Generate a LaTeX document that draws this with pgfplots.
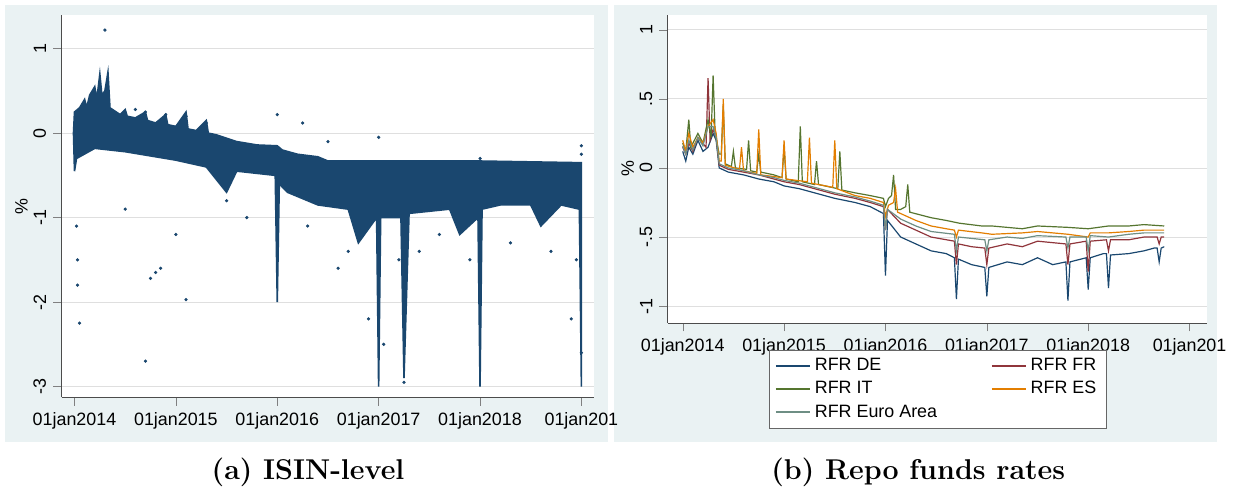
\documentclass[border=0pt]{standalone}
\usepackage{pgfplots}
\pgfplotsset{compat=1.18}
\usepackage{fontspec}
\setsansfont{Liberation Sans}
\definecolor{sbg}{HTML}{EAF2F3}
\definecolor{snavy}{HTML}{1A476F}
\definecolor{smaroon}{HTML}{90353B}
\definecolor{sgreen}{HTML}{55752F}
\definecolor{sorange}{HTML}{E37E00}
\definecolor{steal}{HTML}{6E8E84}
\begin{document}
\begin{tikzpicture}
\path (0pt,0pt) rectangle (616.5pt,247.5pt);
\fill[sbg] (2.5pt,25pt) rectangle (306pt,245pt);
\fill[sbg] (309pt,25pt) rectangle (612.5pt,245pt);
\fill[white] (31pt,47.5pt) rectangle (299pt,240pt);
\fill[white] (336pt,85pt) rectangle (607.5pt,240pt);
\node[font=\bfseries\Large] at (155pt,10pt) {(a) ISIN-level};
\node[font=\bfseries\Large] at (462pt,10pt) {(b) Repo funds rates};
\pgfplotsset{stata/.style={scale only axis, font=\sffamily\small,
  axis x line*=bottom, axis y line*=left, tick align=outside,
  ymajorgrids, grid style={gray!25}, axis line style={black!70},
  x filter/.expression={x-2014},
  xtick={0,1,2,3,4,5},
  xticklabels={01jan2014,01jan2015,01jan2016,01jan2017,01jan2018,01jan201},
  yticklabel style={rotate=90}, ylabel={\%}, clip=true}}
\begin{axis}[stata, at={(31pt,47.5pt)}, anchor=south west, width=268pt, height=192.5pt,
  xmin=-0.127, xmax=5.127, ymin=-3.13, ymax=1.4,
  ytick={-3,-2,-1,0,1}, yticklabels={-3,-2,-1,0,1}, ylabel style={yshift=-4pt}]
\addplot[fill=snavy, draw=snavy, line width=0.8pt] coordinates {
(2013.99,0.0)(2014.0,0.25)(2014.05,0.3)(2014.1,0.4)(2014.12,0.3)(2014.15,0.45)(2014.2,0.55)(2014.22,0.4)(2014.25,0.7)(2014.27,0.45)(2014.3,0.5)(2014.33,0.72)(2014.35,0.3)(2014.45,0.22)(2014.5,0.28)(2014.52,0.2)(2014.6,0.18)(2014.7,0.25)(2014.72,0.15)(2014.8,0.12)(2014.9,0.22)(2014.92,0.1)(2015.0,0.08)(2015.1,0.25)(2015.12,0.05)(2015.2,0.03)(2015.3,0.15)(2015.32,0.0)(2015.4,-0.02)(2015.6,-0.1)(2015.8,-0.14)(2016.0,-0.15)(2016.05,-0.2)(2016.2,-0.25)(2016.4,-0.28)(2016.5,-0.33)(2017.0,-0.33)(2018.0,-0.33)(2019.0,-0.35)
(2019.0,-3.0)(2018.98,-0.9)(2018.8,-0.85)(2018.6,-1.1)(2018.5,-0.85)(2018.2,-0.85)(2018.02,-0.9)(2018.0,-3.0)(2017.98,-1.0)(2017.8,-1.2)(2017.7,-0.9)(2017.3,-0.95)(2017.25,-2.9)(2017.22,-1.0)(2017.02,-1.0)(2017.0,-3.0)(2016.98,-1.0)(2016.8,-1.3)(2016.7,-0.9)(2016.4,-0.85)(2016.1,-0.7)(2016.02,-0.6)(2016.0,-2.0)(2015.98,-0.5)(2015.6,-0.45)(2015.5,-0.7)(2015.3,-0.4)(2015.0,-0.32)(2014.5,-0.22)(2014.2,-0.18)(2014.02,-0.3)(2014.0,-0.45)(2013.99,0.0)} --cycle;
\addplot[only marks, mark=*, mark size=0.6pt, color=snavy] coordinates {
(2014.02,-1.1)(2014.03,-1.5)(2014.05,-2.25)(2014.03,-1.8)(2014.3,1.22)(2014.8,-1.65)(2014.75,-1.72)(2014.85,-1.6)(2014.7,-2.7)(2015.1,-1.97)(2014.5,-0.9)(2015.0,-1.2)(2016.0,0.22)(2016.25,0.12)(2016.5,-0.1)(2017.0,-0.05)(2018.0,-0.3)(2019.0,-0.15)(2019.0,-0.25)(2016.7,-1.4)(2017.2,-1.5)(2017.25,-2.95)(2017.4,-1.4)(2017.6,-1.2)(2018.3,-1.3)(2018.7,-1.4)(2018.95,-1.5)(2016.9,-2.2)(2017.05,-2.5)(2015.5,-0.8)(2015.7,-1.0)(2016.3,-1.1)(2014.6,0.28)(2014.7,0.25)(2014.9,0.22)(2015.1,0.2)(2015.3,0.12)(2016.6,-1.6)(2017.9,-1.5)(2018.9,-2.2)(2019.0,-2.6)};
\end{axis}
\begin{axis}[stata, at={(336pt,85pt)}, anchor=south west, width=271.5pt, height=155pt,
  xmin=-0.147, xmax=5.176, ymin=-1.122, ymax=1.108,
  ytick={-1,-0.5,0,0.5,1}, yticklabels={-1,-.5,0,.5,1}, ylabel style={yshift=-4pt},
  legend style={at={(0.5,-0.087)}, anchor=north, legend columns=2, font=\sffamily\small,
   draw=black!60, /tikz/every even column/.append style={column sep=25pt}},
  legend image post style={line width=1pt},
  legend cell align=left, every axis plot/.append style={line width=0.6pt}]
\addplot[snavy] coordinates {(2014.0,0.12)(2014.03,0.05)(2014.06,0.15)(2014.1,0.1)(2014.15,0.2)(2014.2,0.12)(2014.25,0.15)(2014.3,0.25)(2014.33,0.2)(2014.36,0.0)(2014.45,-0.03)(2014.6,-0.05)(2014.75,-0.08)(2014.9,-0.1)(2015.0,-0.13)(2015.15,-0.15)(2015.3,-0.18)(2015.5,-0.22)(2015.7,-0.25)(2015.85,-0.28)(2015.98,-0.33)(2016.0,-0.78)(2016.02,-0.38)(2016.15,-0.5)(2016.3,-0.55)(2016.45,-0.6)(2016.6,-0.62)(2016.68,-0.65)(2016.7,-0.95)(2016.72,-0.66)(2016.85,-0.7)(2016.98,-0.72)(2017.0,-0.93)(2017.02,-0.72)(2017.2,-0.68)(2017.35,-0.7)(2017.5,-0.65)(2017.65,-0.7)(2017.78,-0.68)(2017.8,-0.96)(2017.82,-0.68)(2017.98,-0.65)(2018.0,-0.88)(2018.02,-0.65)(2018.15,-0.62)(2018.18,-0.62)(2018.2,-0.87)(2018.22,-0.63)(2018.4,-0.62)(2018.55,-0.6)(2018.65,-0.58)(2018.68,-0.58)(2018.7,-0.68)(2018.72,-0.58)(2018.75,-0.57)};
\addlegendentry{RFR DE}
\addplot[smaroon] coordinates {(2014.0,0.15)(2014.03,0.1)(2014.06,0.18)(2014.1,0.12)(2014.15,0.22)(2014.23,0.15)(2014.25,0.65)(2014.27,0.2)(2014.3,0.28)(2014.33,0.22)(2014.36,0.02)(2014.45,-0.01)(2014.6,-0.03)(2014.75,-0.05)(2014.9,-0.08)(2015.0,-0.1)(2015.15,-0.12)(2015.3,-0.15)(2015.5,-0.19)(2015.7,-0.22)(2015.85,-0.25)(2015.98,-0.28)(2016.0,-0.45)(2016.02,-0.3)(2016.15,-0.4)(2016.3,-0.45)(2016.45,-0.5)(2016.68,-0.53)(2016.7,-0.7)(2016.72,-0.55)(2016.85,-0.57)(2016.98,-0.58)(2017.0,-0.7)(2017.02,-0.58)(2017.2,-0.55)(2017.35,-0.57)(2017.5,-0.53)(2017.78,-0.55)(2017.8,-0.7)(2017.82,-0.55)(2017.98,-0.53)(2018.0,-0.75)(2018.02,-0.53)(2018.18,-0.52)(2018.2,-0.6)(2018.22,-0.52)(2018.4,-0.52)(2018.55,-0.5)(2018.68,-0.5)(2018.7,-0.55)(2018.72,-0.5)(2018.75,-0.5)};
\addlegendentry{RFR FR}
\addplot[sgreen] coordinates {(2014.0,0.18)(2014.03,0.12)(2014.06,0.35)(2014.08,0.15)(2014.15,0.25)(2014.2,0.18)(2014.25,0.35)(2014.28,0.22)(2014.3,0.67)(2014.32,0.25)(2014.36,0.1)(2014.38,0.1)(2014.4,0.45)(2014.42,0.03)(2014.48,0.01)(2014.5,0.12)(2014.52,0.0)(2014.63,-0.01)(2014.65,0.2)(2014.67,-0.02)(2014.73,-0.03)(2014.75,0.1)(2014.77,-0.03)(2014.9,-0.05)(2014.98,-0.07)(2015.0,0.15)(2015.02,-0.08)(2015.14,-0.1)(2015.16,0.3)(2015.18,-0.1)(2015.3,-0.12)(2015.32,0.05)(2015.34,-0.12)(2015.53,-0.15)(2015.55,0.12)(2015.57,-0.16)(2015.7,-0.18)(2015.85,-0.2)(2015.98,-0.22)(2016.0,-0.28)(2016.03,-0.22)(2016.06,-0.2)(2016.08,-0.05)(2016.1,-0.3)(2016.15,-0.3)(2016.2,-0.28)(2016.22,-0.12)(2016.24,-0.32)(2016.45,-0.36)(2016.6,-0.38)(2016.73,-0.4)(2016.95,-0.42)(2017.05,-0.42)(2017.35,-0.44)(2017.5,-0.42)(2017.8,-0.43)(2018.0,-0.44)(2018.2,-0.42)(2018.4,-0.42)(2018.55,-0.41)(2018.75,-0.42)};
\addlegendentry{RFR IT}
\addplot[sorange] coordinates {(2014.0,0.2)(2014.03,0.12)(2014.06,0.25)(2014.1,0.15)(2014.15,0.22)(2014.2,0.18)(2014.25,0.3)(2014.3,0.35)(2014.33,0.25)(2014.36,0.05)(2014.38,0.05)(2014.4,0.5)(2014.42,0.02)(2014.56,-0.01)(2014.58,0.15)(2014.6,-0.02)(2014.73,-0.04)(2014.75,0.28)(2014.77,-0.05)(2014.98,-0.07)(2015.0,0.2)(2015.02,-0.08)(2015.23,-0.1)(2015.25,0.22)(2015.27,-0.11)(2015.48,-0.14)(2015.5,0.2)(2015.52,-0.15)(2015.7,-0.2)(2015.85,-0.22)(2015.98,-0.25)(2016.0,-0.35)(2016.03,-0.27)(2016.08,-0.25)(2016.1,-0.15)(2016.12,-0.32)(2016.3,-0.38)(2016.45,-0.42)(2016.6,-0.44)(2016.68,-0.45)(2016.7,-0.5)(2016.72,-0.45)(2016.95,-0.47)(2017.05,-0.48)(2017.35,-0.47)(2017.5,-0.46)(2017.8,-0.48)(2018.0,-0.5)(2018.02,-0.47)(2018.2,-0.47)(2018.4,-0.46)(2018.55,-0.45)(2018.75,-0.45)};
\addlegendentry{RFR ES}
\addplot[steal] coordinates {(2014.0,0.16)(2014.03,0.1)(2014.06,0.2)(2014.1,0.13)(2014.15,0.22)(2014.2,0.16)(2014.25,0.3)(2014.3,0.3)(2014.33,0.22)(2014.36,0.03)(2014.45,0.0)(2014.6,-0.02)(2014.75,-0.05)(2014.9,-0.07)(2015.0,-0.09)(2015.15,-0.11)(2015.3,-0.14)(2015.5,-0.18)(2015.7,-0.21)(2015.85,-0.24)(2015.98,-0.27)(2016.0,-0.45)(2016.02,-0.3)(2016.15,-0.37)(2016.3,-0.42)(2016.45,-0.46)(2016.68,-0.48)(2016.7,-0.6)(2016.72,-0.5)(2016.85,-0.51)(2016.98,-0.52)(2017.0,-0.6)(2017.02,-0.52)(2017.2,-0.5)(2017.35,-0.51)(2017.5,-0.49)(2017.78,-0.5)(2017.8,-0.58)(2017.82,-0.5)(2017.98,-0.5)(2018.0,-0.6)(2018.02,-0.49)(2018.2,-0.5)(2018.4,-0.48)(2018.55,-0.47)(2018.75,-0.47)};
\addlegendentry{RFR Euro Area}
\end{axis}
\end{tikzpicture}
\end{document}
